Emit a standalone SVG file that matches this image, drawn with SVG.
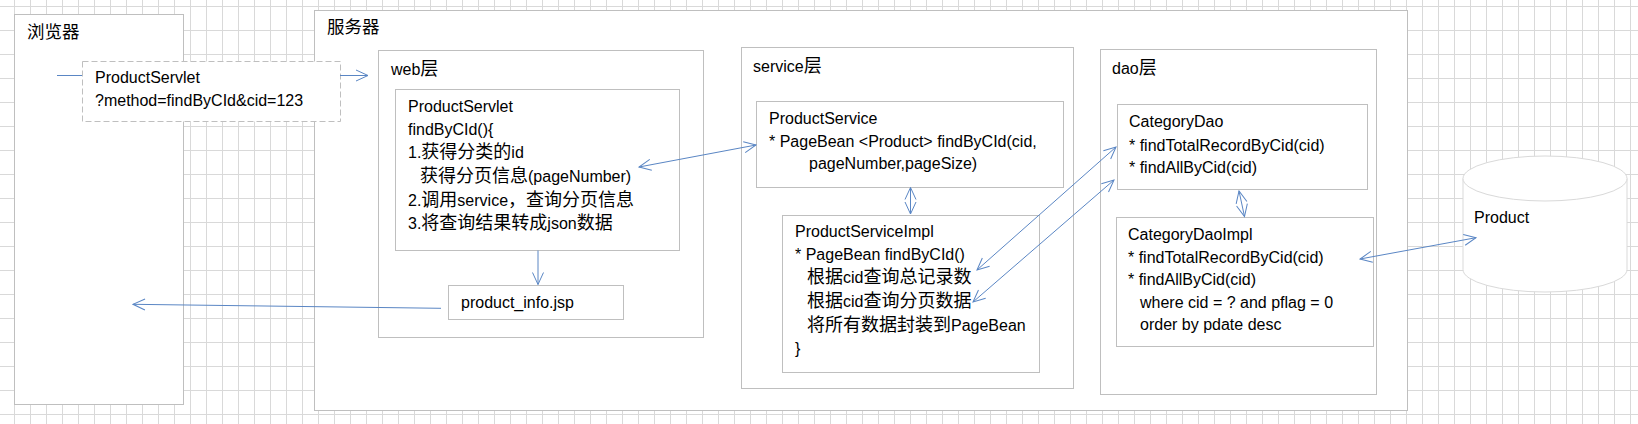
<svg xmlns="http://www.w3.org/2000/svg" width="1638" height="424" viewBox="0 0 1638 424">
<style>
.box{fill:#fff;stroke:#bfbfbf;stroke-width:1}
.dash{fill:#fff;stroke:#bfbfbf;stroke-width:1;stroke-dasharray:6 3}
.cyl{fill:#fff;stroke:#d9d9d9;stroke-width:1}
.t{font-family:"Liberation Sans","Noto Sans CJK SC",sans-serif;font-size:16px;fill:#000}
.c{font-family:"Noto Sans CJK SC",sans-serif;font-size:18px}
.lbl{font-family:"Noto Sans CJK SC",sans-serif;font-size:17.5px;fill:#000}
.con line{stroke:#5a86c4;stroke-width:1;fill:none}
</style>
<defs>
<pattern id="grid" x="14" y="6" width="16" height="24" patternUnits="userSpaceOnUse">
<path d="M0 0.5H16M0.5 0V24" stroke="#d9d9d9" stroke-width="1" fill="none"/>
</pattern>
<marker id="arr" markerUnits="userSpaceOnUse" markerWidth="14" markerHeight="14" refX="13" refY="7" orient="auto-start-reverse">
<path d="M1 1.5L13 7L1 12.5" fill="none" stroke="#5a86c4" stroke-width="1"/>
</marker>
</defs>
<rect width="1638" height="424" fill="#fff"/>
<rect width="1638" height="424" fill="url(#grid)"/>

<g id="browser">
<rect class="box" x="14.5" y="14.5" width="169" height="390"/>
<text class="lbl" x="27" y="38">浏览器</text>
</g>
<g id="server">
<rect class="box" x="314.5" y="10.5" width="1093" height="400"/>
<text class="lbl" x="327" y="33">服务器</text>
</g>
<g id="request">
<rect class="dash" x="82.5" y="61.5" width="258" height="60"/>
<text class="t" x="95" y="83">ProductServlet</text>
<text class="t" x="95" y="106">?method=findByCId&amp;cid=123</text>
</g>
<g id="web">
<rect class="box" x="378.5" y="50.5" width="325" height="287"/>
<text class="t" x="391" y="75">web<tspan class="c">层</tspan></text>
</g>
<g id="productServlet">
<rect class="box" x="395.5" y="89.5" width="284" height="161"/>
<text class="t" x="408" y="112">ProductServlet</text>
<text class="t" x="408" y="135">findByCId(){</text>
<text class="t" x="408" y="158">1.<tspan class="c">获得分类的</tspan>id</text>
<text class="t" x="420" y="182"><tspan class="c">获得分页信息</tspan>(pageNumber)</text>
<text class="t" x="408" y="206">2.<tspan class="c">调用</tspan>service<tspan class="c">，查询分页信息</tspan></text>
<text class="t" x="408" y="229">3.<tspan class="c">将查询结果转成</tspan>json<tspan class="c">数据</tspan></text>
</g>
<g id="productInfo">
<rect class="box" x="448.5" y="285.5" width="175" height="34"/>
<text class="t" x="461" y="308">product_info.jsp</text>
</g>
<g id="service">
<rect class="box" x="741.5" y="47.5" width="332" height="341"/>
<text class="t" x="753" y="72">service<tspan class="c">层</tspan></text>
</g>
<g id="productService">
<rect class="box" x="756.5" y="101.5" width="307" height="86"/>
<text class="t" x="769" y="124">ProductService</text>
<text class="t" x="769" y="147">* PageBean &lt;Product&gt; findByCId(cid,</text>
<text class="t" x="809" y="169">pageNumber,pageSize)</text>
</g>
<g id="productServiceImpl">
<rect class="box" x="782.5" y="215.5" width="257" height="157"/>
<text class="t" x="795" y="237">ProductServiceImpl</text>
<text class="t" x="795" y="260">* PageBean findByCId()</text>
<text class="t" x="807" y="283"><tspan class="c">根据</tspan>cid<tspan class="c">查询总记录数</tspan></text>
<text class="t" x="807" y="307"><tspan class="c">根据</tspan>cid<tspan class="c">查询分页数据</tspan></text>
<text class="t" x="807" y="331"><tspan class="c">将所有数据封装到</tspan>PageBean</text>
<text class="t" x="795" y="354">}</text>
</g>
<g id="dao">
<rect class="box" x="1100.5" y="49.5" width="276" height="345"/>
<text class="t" x="1112" y="74">dao<tspan class="c">层</tspan></text>
</g>
<g id="categoryDao">
<rect class="box" x="1117.5" y="104.5" width="250" height="85"/>
<text class="t" x="1129" y="127">CategoryDao</text>
<text class="t" x="1129" y="150.5">* findTotalRecordByCid(cid)</text>
<text class="t" x="1129" y="172.5">* findAllByCid(cid)</text>
</g>
<g id="categoryDaoImpl">
<rect class="box" x="1116.5" y="217.5" width="257" height="129"/>
<text class="t" x="1128" y="240">CategoryDaoImpl</text>
<text class="t" x="1128" y="262.5">* findTotalRecordByCid(cid)</text>
<text class="t" x="1128" y="285">* findAllByCid(cid)</text>
<text class="t" x="1140" y="307.5">where cid = ? and pflag = 0</text>
<text class="t" x="1140" y="330">order by pdate desc</text>
</g>
<g id="productDb">
<path class="cyl" d="M1463 178.5A82 22.5 0 0 1 1627 178.5V269.5A82 22.5 0 0 1 1463 269.5Z"/>
<path class="cyl" d="M1463 178.5A82 22.5 0 0 0 1627 178.5" fill="none"/>
<text class="t" x="1474" y="223">Product</text>
</g>

<g id="connectors" class="con">
<line x1="57" y1="75.5" x2="82" y2="75.5"/>
<line x1="340" y1="75.5" x2="368" y2="75.5" marker-end="url(#arr)"/>
<line x1="441" y1="308.3" x2="133" y2="304.3" marker-end="url(#arr)"/>
<line x1="538" y1="250.5" x2="538" y2="284.5" marker-end="url(#arr)"/>
<line x1="639" y1="167" x2="756" y2="145" marker-start="url(#arr)" marker-end="url(#arr)"/>
<line x1="910.5" y1="187.5" x2="910.5" y2="214" marker-start="url(#arr)" marker-end="url(#arr)"/>
<line x1="977" y1="270" x2="1116" y2="147" marker-start="url(#arr)" marker-end="url(#arr)"/>
<line x1="973" y1="302" x2="1114" y2="180" marker-start="url(#arr)" marker-end="url(#arr)"/>
<line x1="1239" y1="191" x2="1244.5" y2="216.5" marker-start="url(#arr)" marker-end="url(#arr)"/>
<line x1="1360" y1="259" x2="1476" y2="237.7" marker-start="url(#arr)" marker-end="url(#arr)"/>
</g>
</svg>
